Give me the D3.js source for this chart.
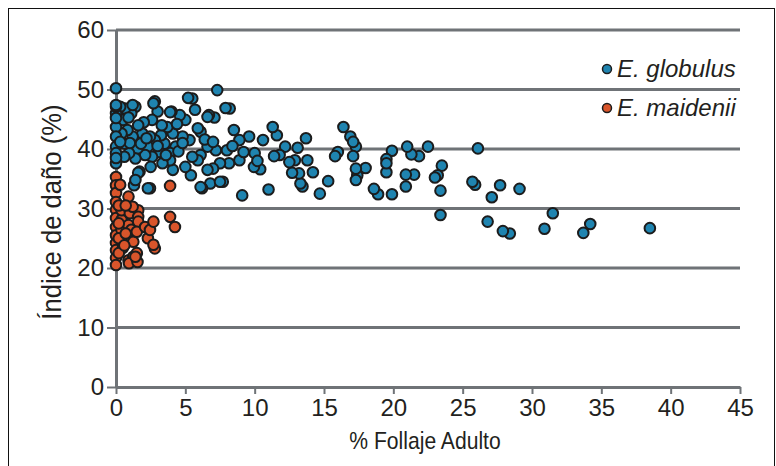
<!DOCTYPE html>
<html>
<head>
<meta charset="utf-8">
<script src="https://cdn.jsdelivr.net/npm/d3@7"></script>
<style>
  body { margin: 0; background: #fff; }
  svg text { font-family: "Liberation Sans Narrow", "Arial Narrow", "Liberation Sans", Arial, sans-serif; fill: #231f20; }
</style>
</head>
<body>
<svg id="chart"></svg>
<script>
// datos: % follaje adulto (x) e índice de daño (y)
const globulusX = [38.5, 34.2, 33.7, 30.9, 31.5, 29.1, 28.4, 27.9, 27.7, 27.1, 26.8, 26.1, 25.9, 25.7, 23.4, 23.4, 23.5, 23.2, 23.0, 22.5,
  21.85, 21.5, 21.3, 21.0, 20.9, 20.9, 19.9, 19.9, 19.5, 19.5, 19.5, 18.9, 18.6, 18.0, 17.4, 17.3, 17.3, 17.3, 17.1, 16.9,
  16.4, 17.1, 16.0, 15.8, 15.3, 14.7, 14.2, 13.7, 13.8, 13.45, 13.3, 13.2, 13.1, 12.9, 12.2, 11.8, 11.6, 11.3, 11.4, 11.0,
  10.6, 10.4, 10.0, 9.95, 9.6, 9.1, 8.9, 8.9, 8.5, 8.2, 8.15, 8.0, 7.7, 7.5, 7.3, 7.2, 7.1, 7.0, 6.7, 6.8,
  6.6, 6.6, 6.2, 6.1, 6.1, 5.9, 5.7, 5.5, 5.5, 5.4, 5.3, 5.0, 5.0, 4.8, 4.6, 4.3, 4.1, 4.1, 4.0, 3.9,
  3.9, 3.7, 3.5, 3.35, 3.25, 3.1, 3.0, 2.8, 2.8, 2.6, 2.5, 2.6, 2.45, 2.45, 2.3, 2.1, 1.9, 1.7, 1.55, 1.4,
  1.4, 1.3, 1.2, 1.1, 0.94, 0.83, 0.65, 0.65, 0.6, 0.5, 0.4, 0.3, 0, 0, 0, 0, 0, 0, 0, 0,
  5.2, 7.9, 2.7, 3.9, 6.6, 1.2, 0, 6.1, 7.5, 12.7, 1.6, 1.4, 2.3, 1.0, 1.8, 2.2, 3.0, 3.6, 4.5, 4.8,
  6.4, 7.0, 8.4, 9.2, 2.0, 3.3, 1.6, 0.9, 4.4, 5.9, 10.2, 12.5, 0, 0, 0.3];
const globulusY = [26.7, 27.4, 25.9, 26.6, 29.2, 33.3, 25.8, 26.2, 33.9, 31.9, 27.8, 40.1, 34.0, 34.5, 28.9, 33.0, 37.2, 35.6, 35.2, 40.4,
  38.8, 35.7, 39.1, 40.4, 35.7, 33.7, 39.7, 32.4, 38.3, 36.1, 37.6, 32.4, 33.3, 36.8, 35.6, 34.8, 36.7, 40.4, 38.8, 42.1,
  43.7, 41.2, 39.5, 38.8, 34.6, 32.5, 36.1, 41.8, 38.1, 33.7, 34.2, 35.9, 40.2, 38.1, 40.4, 39.0, 42.3, 43.7, 38.8, 33.2,
  41.5, 36.6, 39.3, 37.0, 42.1, 32.2, 38.1, 41.5, 43.2, 46.8, 37.6, 39.8, 34.5, 37.6, 49.9, 39.8, 45.3, 36.7, 45.7, 34.2,
  36.5, 40.4, 33.4, 39.0, 42.9, 38.1, 46.6, 48.5, 38.7, 35.6, 41.5, 37.0, 44.9, 42.1, 45.7, 40.4, 42.6, 36.5, 46.3, 39.3,
  38.1, 43.7, 40.9, 37.6, 42.3, 39.5, 46.3, 48.0, 41.5, 38.7, 37.0, 44.9, 42.1, 33.4, 40.4, 39.0, 42.6, 36.2, 40.1, 38.4,
  47.1, 33.9, 42.1, 46.0, 39.3, 43.2, 46.8, 40.9, 38.7, 44.9, 42.6, 47.1, 50.2, 46.0, 43.7, 42.1, 40.4, 39.3, 37.6, 47.1,
  48.6, 46.9, 47.7, 46.2, 45.4, 47.4, 47.4, 33.6, 34.5, 36.0, 36.0, 34.8, 33.4, 41.0, 40.9, 41.8, 40.5, 39.0, 39.6, 41.0,
  41.6, 41.2, 40.5, 39.5, 44.5, 44.0, 44.0, 45.3, 44.2, 43.5, 38.0, 37.8, 45.2, 38.5, 41.2];

const maideniiX = [0, 0, 0, 0, 0, 0, 0, 0, 0, 0, 0, 0, 0.4, 0.4, 0.4, 0.5, 0.4, 0.9, 1.0, 0.9,
  1.1, 1.25, 0.9, 1.25, 1.5, 1.6, 1.6, 1.6, 1.5, 2.1, 2.3, 2.45, 2.7, 2.8, 2.7, 3.9, 3.9, 4.25, 0.94, 1.55,
  1.4, 1.2, 0.2, 0.2, 0.2, 0.2, 0.7, 0.6, 0.3, 0.7];
const maideniiY = [35.3, 33.9, 32.6, 31.1, 29.8, 28.4, 26.9, 25.5, 24.2, 23.0, 21.7, 20.5, 28.1, 26.4, 24.7, 23.4, 29.7, 32.0, 29.2, 27.2,
  26.4, 24.4, 21.3, 21.9, 22.5, 29.7, 28.6, 27.8, 26.1, 26.9, 25.0, 26.4, 27.8, 23.3, 23.9, 33.8, 28.6, 26.9, 20.8, 21.0,
  21.9, 30.3, 30.5, 27.5, 25.0, 22.5, 25.8, 23.8, 34.0, 30.5];

const xTicks = [0, 5, 10, 15, 20, 25, 30, 35, 40, 45];
const yTicks = [0, 10, 20, 30, 40, 50, 60];
const seriesNames = ["E. globulus", "E. maidenii"];
const seriesColors = ["#1f84b0", "#d9552b"];

const WIDTH = 776, HEIGHT = 466;
const margin = { top: 30, bottom: 79, left: 116, right: 36 };
const width = WIDTH - margin.left - margin.right,
  height = HEIGHT - margin.top - margin.bottom;

const svg = d3.select("svg#chart")
  .attr("width", WIDTH)
  .attr("height", HEIGHT);

// marco exterior
svg.append("rect")
  .attr("x", 8.5).attr("y", 8.5)
  .attr("width", 766).attr("height", 470)
  .attr("fill", "none")
  .attr("stroke", "#111")
  .attr("stroke-width", 1);

const plot = svg.append("g")
  .attr("transform", `translate(${margin.left}, ${margin.top})`);

const x = d3.scaleLinear().domain([0, 45]).range([0, width]);
const y = d3.scaleLinear().domain([0, 60]).range([height, 0]);

const gridColor = "#6f7377";

// líneas horizontales
plot.append("g").attr("id", "grid")
  .selectAll("line")
  .data(yTicks.filter(d => d > 0))
  .join("line")
    .attr("x1", 0).attr("x2", width)
    .attr("y1", d => y(d)).attr("y2", d => y(d))
    .attr("stroke", gridColor)
    .attr("stroke-width", 3);

const yAxis = plot.append("g")
  .call(d3.axisLeft(y).tickValues(yTicks).tickSize(9).tickPadding(3).tickSizeOuter(0));

const xAxis = plot.append("g")
  .attr("transform", `translate(0, ${height})`)
  .call(d3.axisBottom(x).tickValues(xTicks).tickSize(7).tickPadding(5).tickSizeOuter(0));

[xAxis, yAxis].forEach(a => {
  a.select(".domain").attr("stroke", gridColor).attr("stroke-width", 3);
  a.selectAll(".tick line").attr("stroke", gridColor).attr("stroke-width", 2);
  a.selectAll(".tick text")
    .style("font-size", "24px")
    .attr("fill", "#231f20");
});

// puntos
const series = [
  { name: seriesNames[0], color: seriesColors[0], xs: globulusX, ys: globulusY },
  { name: seriesNames[1], color: seriesColors[1], xs: maideniiX, ys: maideniiY },
];

series.forEach(s => {
  plot.append("g")
    .selectAll("circle")
    .data(d3.zip(s.xs, s.ys))
    .join("circle")
      .attr("cx", d => x(d[0]))
      .attr("cy", d => y(d[1]))
      .attr("r", 5.3)
      .attr("fill", s.color)
      .attr("stroke", "#1c1c1c")
      .attr("stroke-width", 2);
});

// títulos de ejes (letra algo estrecha, como en el original)
svg.append("text")
  .attr("transform", `translate(${margin.left + width / 2 - 3}, 449) scale(0.88, 1)`)
  .style("text-anchor", "middle")
  .style("font-size", "24px")
  .text("% Follaje Adulto");

svg.append("text")
  .attr("transform", "translate(61, 212) rotate(-90) scale(0.95, 1)")
  .style("text-anchor", "middle")
  .style("font-size", "27px")
  .text("Índice de daño (%)");

// leyenda
const legend = svg.append("g")
  .selectAll("g")
  .data(series)
  .join("g")
    .attr("transform", (d, i) => `translate(607, ${69 + i * 39})`);

legend.append("circle")
  .attr("r", 4.5)
  .attr("fill", d => d.color)
  .attr("stroke", "#1c1c1c")
  .attr("stroke-width", 1.5);

legend.append("text")
  .attr("x", 10)
  .attr("dy", "0.35em")
  .style("font-size", "24px")
  .style("font-style", "italic")
  .text(d => d.name);
</script>
</body>
</html>
